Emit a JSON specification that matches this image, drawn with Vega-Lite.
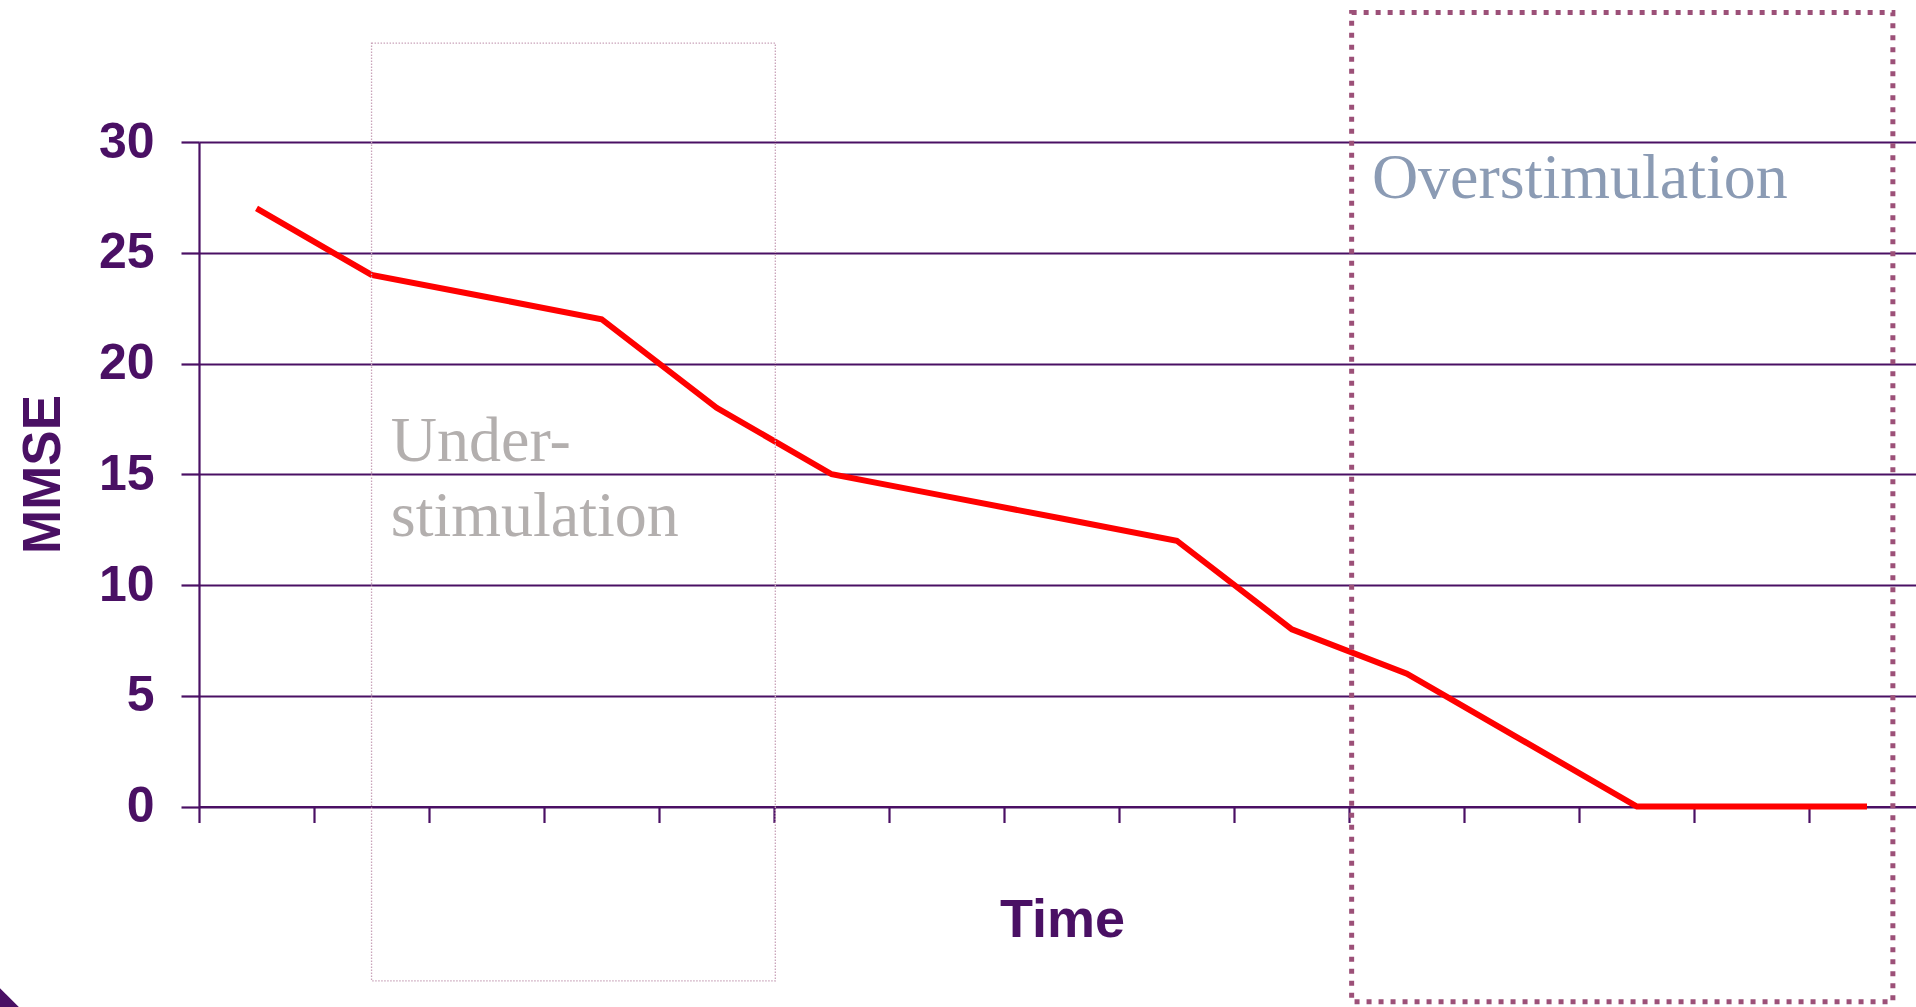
{
  "$schema": "https://vega.github.io/schema/vega-lite/v6.json",
  "width": 1717,
  "height": 664.5,
  "autosize": {"type": "none"},
  "padding": {"left": 199, "top": 142, "right": 0, "bottom": 200.5},
  "background": "white",
  "config": {"view": {"stroke": null}},
  "datasets": {
    "series": [
      {"t": 1, "mmse": 27}, {"t": 2, "mmse": 24}, {"t": 3, "mmse": 23}, {"t": 4, "mmse": 22},
      {"t": 5, "mmse": 18}, {"t": 6, "mmse": 15}, {"t": 7, "mmse": 14}, {"t": 8, "mmse": 13},
      {"t": 9, "mmse": 12}, {"t": 10, "mmse": 8}, {"t": 11, "mmse": 6}, {"t": 12, "mmse": 3},
      {"t": 13, "mmse": 0}, {"t": 14, "mmse": 0}, {"t": 15, "mmse": 0}
    ],
    "under_box": [{"t0": 2.0, "t1": 5.51, "m0": -7.87, "m1": 34.46}],
    "over_box": [{"t0": 10.52, "t1": 15.225, "m0": -8.82, "m1": 35.85}],
    "under_label": [{"t": 2.167, "m": 15.6, "label": "Under-\nstimulation"}],
    "over_label": [{"t": 10.696, "m": 27.46, "label": "Overstimulation"}],
    "corner": [{"t": -1.232, "m": -8.19}]
  },
  "layer": [
    {
      "data": {"name": "series"},
      "mark": {"type": "line", "color": "#ff0000", "strokeWidth": 6, "strokeJoin": "miter"},
      "encoding": {
        "x": {
          "field": "t", "type": "quantitative",
          "scale": {"domain": [0.5, 15.426], "nice": false, "zero": false},
          "axis": {
            "title": "Time",
            "values": [0.5, 1.5, 2.5, 3.5, 4.5, 5.5, 6.5, 7.5, 8.5, 9.5, 10.5, 11.5, 12.5, 13.5, 14.5],
            "labels": false, "grid": false,
            "domainColor": "#4a1064", "domainWidth": 2.2,
            "tickColor": "#4a1064", "tickWidth": 2.2, "tickSize": 16,
            "titleFont": "Liberation Sans", "titleFontWeight": "bold", "titleFontSize": 54,
            "titleColor": "#4a1064", "titleX": 863, "titleY": 130,
            "titleAlign": "center", "titleBaseline": "alphabetic"
          }
        },
        "y": {
          "field": "mmse", "type": "quantitative",
          "scale": {"domain": [0, 30], "nice": false},
          "axis": {
            "title": "MMSE",
            "values": [0, 5, 10, 15, 20, 25, 30],
            "grid": true, "gridColor": "#4a1064", "gridWidth": 2.2, "gridOpacity": 1,
            "domainColor": "#4a1064", "domainWidth": 2.2,
            "tickColor": "#4a1064", "tickWidth": 2.2, "tickSize": 18,
            "labelFont": "Liberation Sans", "labelFontWeight": "bold", "labelFontSize": 50,
            "labelColor": "#4a1064", "labelPadding": 27,
            "titleFont": "Liberation Sans", "titleFontWeight": "bold", "titleFontSize": 53,
            "titleColor": "#4a1064", "titleAngle": -90, "titleX": -140, "titleY": 332,
            "titleAlign": "center", "titleBaseline": "alphabetic"
          }
        }
      }
    },
    {
      "data": {"name": "under_box"},
      "mark": {"type": "rect", "filled": false, "fillOpacity": 0, "stroke": "#c9a3b9", "strokeWidth": 1.3, "strokeDash": [1.5, 1.5]},
      "encoding": {
        "x": {"field": "t0", "type": "quantitative"},
        "x2": {"field": "t1"},
        "y": {"field": "m0", "type": "quantitative"},
        "y2": {"field": "m1"}
      }
    },
    {
      "data": {"name": "over_box"},
      "mark": {"type": "rect", "filled": false, "fillOpacity": 0, "stroke": "#9c5078", "strokeWidth": 5, "strokeDash": [5, 7], "strokeCap": "butt"},
      "encoding": {
        "x": {"field": "t0", "type": "quantitative"},
        "x2": {"field": "t1"},
        "y": {"field": "m0", "type": "quantitative"},
        "y2": {"field": "m1"}
      }
    },
    {
      "data": {"name": "under_label"},
      "mark": {"type": "text", "font": "Liberation Serif", "fontSize": 64, "color": "#b3afae", "align": "left", "baseline": "alphabetic", "lineBreak": "\n", "lineHeight": 75},
      "encoding": {
        "x": {"field": "t", "type": "quantitative"},
        "y": {"field": "m", "type": "quantitative"},
        "text": {"field": "label"}
      }
    },
    {
      "data": {"name": "over_label"},
      "mark": {"type": "text", "font": "Liberation Serif", "fontSize": 64, "color": "#8b9bb4", "align": "left", "baseline": "alphabetic"},
      "encoding": {
        "x": {"field": "t", "type": "quantitative"},
        "y": {"field": "m", "type": "quantitative"},
        "text": {"field": "label"}
      }
    },
    {
      "data": {"name": "corner"},
      "mark": {"type": "point", "shape": "M-1,-1L1,1L-1,1Z", "filled": true, "size": 6400, "color": "#4a1064", "opacity": 1, "strokeWidth": 0},
      "encoding": {
        "x": {"field": "t", "type": "quantitative"},
        "y": {"field": "m", "type": "quantitative"}
      }
    }
  ]
}
